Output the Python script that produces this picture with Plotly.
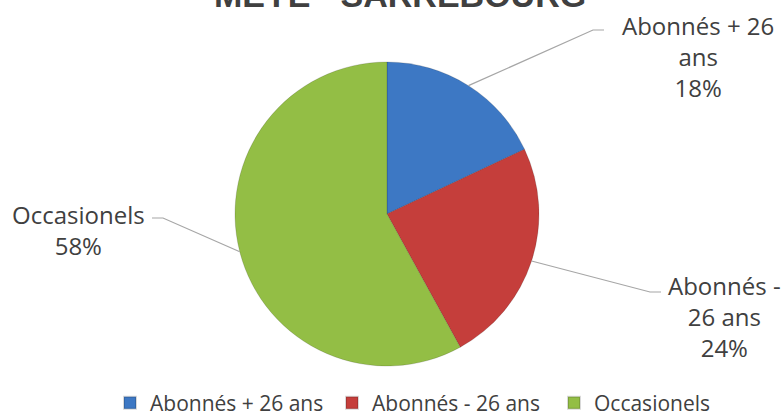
import math
import plotly.graph_objects as go

# ---- data ----
categories = ["Abonnés + 26 ans", "Abonnés - 26 ans", "Occasionels"]
values = [18, 24, 58]
label_texts = ["Abonnés + 26<br>ans<br>18%", "Abonnés -<br>26 ans<br>24%", "Occasionels<br>58%"]
colors = ["#3D78C4", "#C53E3B", "#93BE45"]
title_text = "MEYE - SARREBOURG"

W, H = 784, 420
cx, cy, R = 387, 214, 152  # pie centre / radius in px


def px(x):
    return x / W


def py(y):
    return (H - y) / H


fig = go.Figure()
fig.add_trace(go.Pie(
    labels=categories,
    values=values,
    sort=False,
    direction="clockwise",
    rotation=0,
    textinfo="none",
    hoverinfo="label+percent",
    marker=dict(colors=colors, line=dict(color="rgba(0,0,0,0.15)", width=1)),
    domain=dict(x=[px(cx - R), px(cx + R)], y=[py(cy + R), py(cy - R)]),
))

# label placement (layout) and leader-line elbows
label_pos = [(698, 57), (724, 316), (78, 230)]
elbows = [((593, 30), (604, 30)), ((650, 292), (661, 292)), ((163, 218), (152, 218))]

total = sum(values)
cum = 0
shapes = []
annotations = []
for i, v in enumerate(values):
    mid = (cum + v / 2) / total * 2 * math.pi
    cum += v
    ex = cx + R * math.sin(mid)
    ey = cy - R * math.cos(mid)
    (bx, by), (tx, ty) = elbows[i]
    shapes.append(dict(
        type="path", xref="paper", yref="paper",
        path=f"M {px(ex)} {py(ey)} L {px(bx)} {py(by)} L {px(tx)} {py(ty)}",
        line=dict(color="#A6A6A6", width=1.2),
    ))
    lx, ly = label_pos[i]
    annotations.append(dict(
        x=px(lx), y=py(ly), xref="paper", yref="paper",
        text=label_texts[i], showarrow=False, align="center",
        xanchor="center", yanchor="middle",
        font=dict(family="Open Sans", size=24, color="#404040"),
    ))

# chart title (partly above the visible area, as in the reference)
annotations.append(dict(
    x=px(400), y=1.0, xref="paper", yref="paper", yshift=5,
    text=f"<b>{title_text}</b>", showarrow=False,
    xanchor="center", yanchor="middle",
    font=dict(family="Liberation Sans", size=34, color="#404040"),
))

fig.update_layout(
    width=W, height=H,
    margin=dict(l=0, r=0, t=0, b=0, autoexpand=False),
    paper_bgcolor="white",
    plot_bgcolor="white",
    showlegend=True,
    legend=dict(orientation="h", x=px(110), xanchor="left", y=py(403), yanchor="middle",
                font=dict(family="Open Sans", size=21, color="#404040"),
                entrywidth=177, entrywidthmode="pixels",
                itemsizing="constant", traceorder="normal"),
    shapes=shapes,
    annotations=annotations,
)

fig.write_html("out.html",
               config={"displayModeBar": False},
               post_script="document.body.style.margin='0';document.body.style.padding='0';")
